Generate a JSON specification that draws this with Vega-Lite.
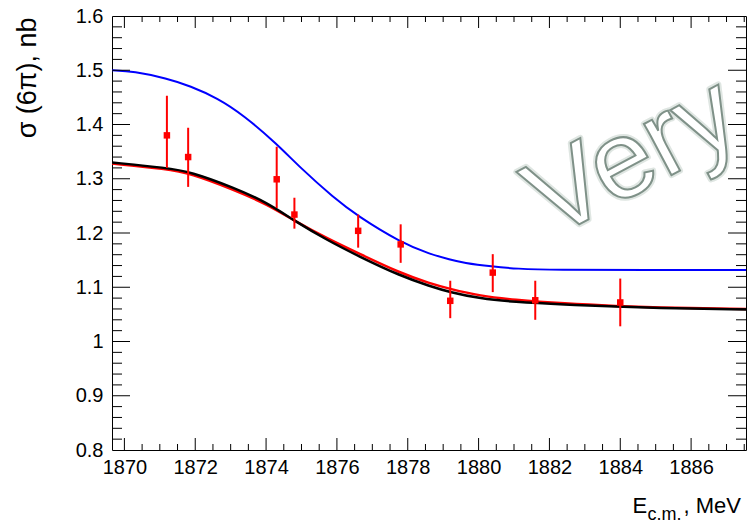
{
  "$schema": "https://vega.github.io/schema/vega-lite/v6.json",
  "width": 634,
  "height": 434,
  "autosize": "none",
  "padding": {"left": 112, "top": 16, "right": 4, "bottom": 74},
  "background": "white",
  "config": {
    "view": {"stroke": null},
    "font": "Liberation Sans",
    "axis": {
      "grid": false,
      "ticks": false,
      "domainColor": "#000000",
      "domainWidth": 1,
      "labelColor": "#000000",
      "labelFont": "Liberation Sans",
      "labelFontSize": 20,
      "labelFlush": false,
      "labelOverlap": false,
      "titleFont": "Liberation Sans",
      "titleFontWeight": "normal",
      "titleColor": "#000000"
    }
  },
  "datasets": {
    "blue": [
      {"x": 1869.65, "y": 1.500},
      {"x": 1870.26, "y": 1.498},
      {"x": 1871.20, "y": 1.485},
      {"x": 1871.86, "y": 1.471},
      {"x": 1872.62, "y": 1.449},
      {"x": 1873.37, "y": 1.417},
      {"x": 1874.31, "y": 1.364},
      {"x": 1874.97, "y": 1.320},
      {"x": 1875.91, "y": 1.265},
      {"x": 1876.57, "y": 1.232},
      {"x": 1877.79, "y": 1.183},
      {"x": 1878.63, "y": 1.161},
      {"x": 1879.20, "y": 1.151},
      {"x": 1879.57, "y": 1.145},
      {"x": 1880.38, "y": 1.138},
      {"x": 1881.08, "y": 1.134},
      {"x": 1882.10, "y": 1.132},
      {"x": 1884.84, "y": 1.132},
      {"x": 1887.55, "y": 1.132}
    ],
    "red": [
      {"x": 1869.65, "y": 1.328},
      {"x": 1871.20, "y": 1.318},
      {"x": 1871.86, "y": 1.310},
      {"x": 1873.08, "y": 1.280},
      {"x": 1874.03, "y": 1.253},
      {"x": 1874.81, "y": 1.222},
      {"x": 1875.72, "y": 1.190},
      {"x": 1876.59, "y": 1.163},
      {"x": 1877.79, "y": 1.126},
      {"x": 1878.63, "y": 1.107},
      {"x": 1879.18, "y": 1.097},
      {"x": 1880.05, "y": 1.084},
      {"x": 1880.98, "y": 1.077},
      {"x": 1882.40, "y": 1.070},
      {"x": 1884.00, "y": 1.065},
      {"x": 1884.84, "y": 1.063},
      {"x": 1887.55, "y": 1.060}
    ],
    "black": [
      {"x": 1869.65, "y": 1.330},
      {"x": 1871.20, "y": 1.320},
      {"x": 1871.86, "y": 1.313},
      {"x": 1873.08, "y": 1.284},
      {"x": 1874.03, "y": 1.256},
      {"x": 1874.81, "y": 1.222},
      {"x": 1875.72, "y": 1.187},
      {"x": 1876.59, "y": 1.158},
      {"x": 1877.79, "y": 1.121},
      {"x": 1878.63, "y": 1.102},
      {"x": 1879.18, "y": 1.091},
      {"x": 1880.05, "y": 1.079},
      {"x": 1880.98, "y": 1.073},
      {"x": 1882.40, "y": 1.068},
      {"x": 1884.00, "y": 1.064},
      {"x": 1884.84, "y": 1.062},
      {"x": 1887.55, "y": 1.059}
    ],
    "points": [
      {"x": 1871.2, "y": 1.380, "lo": 1.320, "hi": 1.453},
      {"x": 1871.8, "y": 1.340, "lo": 1.285, "hi": 1.394},
      {"x": 1874.3, "y": 1.299, "lo": 1.246, "hi": 1.359},
      {"x": 1874.8, "y": 1.234, "lo": 1.208, "hi": 1.265},
      {"x": 1876.6, "y": 1.204, "lo": 1.173, "hi": 1.234},
      {"x": 1877.8, "y": 1.179, "lo": 1.145, "hi": 1.216},
      {"x": 1879.2, "y": 1.075, "lo": 1.043, "hi": 1.112},
      {"x": 1880.4, "y": 1.127, "lo": 1.091, "hi": 1.161},
      {"x": 1881.6, "y": 1.076, "lo": 1.040, "hi": 1.112},
      {"x": 1884.0, "y": 1.072, "lo": 1.028, "hi": 1.116}
    ],
    "watermark": [
      {"label": "Very", "x": 1884.8, "y": 1.284}
    ],
    "xmajor": [{"v": 1870}, {"v": 1872}, {"v": 1874}, {"v": 1876}, {"v": 1878}, {"v": 1880}, {"v": 1882}, {"v": 1884}, {"v": 1886}],
    "xminor": [{"v": 1870.5}, {"v": 1871}, {"v": 1871.5}, {"v": 1872.5}, {"v": 1873}, {"v": 1873.5}, {"v": 1874.5}, {"v": 1875}, {"v": 1875.5}, {"v": 1876.5}, {"v": 1877}, {"v": 1877.5}, {"v": 1878.5}, {"v": 1879}, {"v": 1879.5}, {"v": 1880.5}, {"v": 1881}, {"v": 1881.5}, {"v": 1882.5}, {"v": 1883}, {"v": 1883.5}, {"v": 1884.5}, {"v": 1885}, {"v": 1885.5}, {"v": 1886.5}, {"v": 1887}, {"v": 1887.5}],
    "ymajor": [{"v": 0.9}, {"v": 1.0}, {"v": 1.1}, {"v": 1.2}, {"v": 1.3}, {"v": 1.4}, {"v": 1.5}],
    "yminor": [{"v": 0.82}, {"v": 0.84}, {"v": 0.86}, {"v": 0.88}, {"v": 0.92}, {"v": 0.94}, {"v": 0.96}, {"v": 0.98}, {"v": 1.02}, {"v": 1.04}, {"v": 1.06}, {"v": 1.08}, {"v": 1.12}, {"v": 1.14}, {"v": 1.16}, {"v": 1.18}, {"v": 1.22}, {"v": 1.24}, {"v": 1.26}, {"v": 1.28}, {"v": 1.32}, {"v": 1.34}, {"v": 1.36}, {"v": 1.38}, {"v": 1.42}, {"v": 1.44}, {"v": 1.46}, {"v": 1.48}, {"v": 1.52}, {"v": 1.54}, {"v": 1.56}, {"v": 1.58}]
  },
  "resolve": {"axis": {"x": "independent", "y": "independent"}},
  "layer": [
    {
      "data": {"name": "watermark"},
      "mark": {"type": "text", "font": "Liberation Sans", "fontSize": 110, "angle": -28, "align": "center", "baseline": "alphabetic", "fill": "#ffffff", "stroke": "#dfe6e2", "strokeWidth": 6, "strokeJoin": "round"},
      "encoding": {
        "text": {"field": "label"},
        "x": {"field": "x", "type": "quantitative", "scale": {"domain": [1869.65, 1887.55], "nice": false, "zero": false}, "axis": null},
        "y": {"field": "y", "type": "quantitative", "scale": {"domain": [0.8, 1.6], "nice": false, "zero": false}, "axis": null}
      }
    },
    {
      "data": {"name": "blue"},
      "mark": {"type": "line", "color": "#0000ff", "strokeWidth": 2, "interpolate": "basis", "clip": true},
      "encoding": {
        "x": {"field": "x", "type": "quantitative",
          "scale": {"domain": [1869.65, 1887.55], "nice": false, "zero": false},
          "axis": {"orient": "bottom", "values": [1870, 1872, 1874, 1876, 1878, 1880, 1882, 1884, 1886], "format": "d",
            "labelPadding": 7, "domain": true,
            "title": "E", "titleFontSize": 22, "titleX": 520, "titleY": 62, "titleAlign": "left", "titleBaseline": "alphabetic", "titleAngle": 0}},
        "y": {"field": "y", "type": "quantitative",
          "scale": {"domain": [0.8, 1.6], "nice": false, "zero": false},
          "axis": {"orient": "left", "values": [0.8, 0.9, 1, 1.1, 1.2, 1.3, 1.4, 1.5, 1.6], "format": "~g",
            "labelPadding": 9, "domain": true,
            "title": "σ (6π), nb", "titleFontSize": 27, "titleAngle": -90, "titleX": -85, "titleY": 1, "titleAlign": "right", "titleBaseline": "middle"}}
      }
    },
    {
      "data": {"name": "red"},
      "mark": {"type": "line", "color": "#ff0000", "strokeWidth": 2.5, "interpolate": "basis", "clip": true},
      "encoding": {
        "x": {"field": "x", "type": "quantitative", "scale": {"domain": [1869.65, 1887.55], "nice": false, "zero": false}, "axis": null},
        "y": {"field": "y", "type": "quantitative", "scale": {"domain": [0.8, 1.6], "nice": false, "zero": false}, "axis": null}
      }
    },
    {
      "data": {"name": "black"},
      "mark": {"type": "line", "color": "#000000", "strokeWidth": 2.5, "interpolate": "basis", "clip": true},
      "encoding": {
        "x": {"field": "x", "type": "quantitative",
          "scale": {"domain": [1869.65, 1887.55], "nice": false, "zero": false},
          "axis": {"orient": "bottom", "values": [1870], "labels": false, "domain": false,
            "title": "c.m.", "titleFontSize": 18, "titleX": 535, "titleY": 69, "titleAlign": "left", "titleBaseline": "alphabetic", "titleAngle": 0}},
        "y": {"field": "y", "type": "quantitative", "scale": {"domain": [0.8, 1.6], "nice": false, "zero": false}, "axis": null}
      }
    },
    {
      "data": {"name": "points"},
      "mark": {"type": "rule", "color": "#ff0000", "strokeWidth": 2},
      "encoding": {
        "x": {"field": "x", "type": "quantitative",
          "scale": {"domain": [1869.65, 1887.55], "nice": false, "zero": false},
          "axis": {"orient": "top", "values": [1870], "labels": false, "domain": true,
            "title": ", MeV", "titleFontSize": 22, "titleX": 571, "titleY": 496, "titleAlign": "left", "titleBaseline": "alphabetic", "titleAngle": 0}},
        "y": {"field": "lo", "type": "quantitative",
          "scale": {"domain": [0.8, 1.6], "nice": false, "zero": false},
          "axis": {"orient": "right", "values": [1.0], "labels": false, "domain": true, "title": null}},
        "y2": {"field": "hi"}
      }
    },
    {
      "data": {"name": "points"},
      "mark": {"type": "point", "shape": "square", "filled": true, "color": "#ff0000", "size": 42, "opacity": 1},
      "encoding": {
        "x": {"field": "x", "type": "quantitative", "scale": {"domain": [1869.65, 1887.55], "nice": false, "zero": false}, "axis": null},
        "y": {"field": "y", "type": "quantitative", "scale": {"domain": [0.8, 1.6], "nice": false, "zero": false}, "axis": null}
      }
    },
    {
      "data": {"name": "watermark"},
      "mark": {"type": "text", "font": "Liberation Sans", "fontSize": 110, "angle": -28, "align": "center", "baseline": "alphabetic", "fill": "#ffffff", "stroke": "#7f9188", "strokeWidth": 2},
      "encoding": {
        "text": {"field": "label"},
        "x": {"field": "x", "type": "quantitative", "scale": {"domain": [1869.65, 1887.55], "nice": false, "zero": false}, "axis": null},
        "y": {"field": "y", "type": "quantitative", "scale": {"domain": [0.8, 1.6], "nice": false, "zero": false}, "axis": null}
      }
    },
    {
      "data": {"name": "xmajor"},
      "mark": {"type": "tick", "color": "#000000", "thickness": 1, "size": 12, "orient": "vertical", "opacity": 1, "yOffset": -6},
      "encoding": {
        "x": {"field": "v", "type": "quantitative", "scale": {"domain": [1869.65, 1887.55], "nice": false, "zero": false}, "axis": null},
        "y": {"datum": 0.8, "type": "quantitative", "scale": {"domain": [0.8, 1.6], "nice": false, "zero": false}, "axis": null}
      }
    },
    {
      "data": {"name": "xminor"},
      "mark": {"type": "tick", "color": "#000000", "thickness": 1, "size": 6, "orient": "vertical", "opacity": 1, "yOffset": -3},
      "encoding": {
        "x": {"field": "v", "type": "quantitative", "scale": {"domain": [1869.65, 1887.55], "nice": false, "zero": false}, "axis": null},
        "y": {"datum": 0.8, "type": "quantitative", "scale": {"domain": [0.8, 1.6], "nice": false, "zero": false}, "axis": null}
      }
    },
    {
      "data": {"name": "xmajor"},
      "mark": {"type": "tick", "color": "#000000", "thickness": 1, "size": 12, "orient": "vertical", "opacity": 1, "yOffset": 6},
      "encoding": {
        "x": {"field": "v", "type": "quantitative", "scale": {"domain": [1869.65, 1887.55], "nice": false, "zero": false}, "axis": null},
        "y": {"datum": 1.6, "type": "quantitative", "scale": {"domain": [0.8, 1.6], "nice": false, "zero": false}, "axis": null}
      }
    },
    {
      "data": {"name": "xminor"},
      "mark": {"type": "tick", "color": "#000000", "thickness": 1, "size": 6, "orient": "vertical", "opacity": 1, "yOffset": 3},
      "encoding": {
        "x": {"field": "v", "type": "quantitative", "scale": {"domain": [1869.65, 1887.55], "nice": false, "zero": false}, "axis": null},
        "y": {"datum": 1.6, "type": "quantitative", "scale": {"domain": [0.8, 1.6], "nice": false, "zero": false}, "axis": null}
      }
    },
    {
      "data": {"name": "ymajor"},
      "mark": {"type": "tick", "color": "#000000", "thickness": 1, "size": 18, "orient": "horizontal", "opacity": 1, "xOffset": 9},
      "encoding": {
        "y": {"field": "v", "type": "quantitative", "scale": {"domain": [0.8, 1.6], "nice": false, "zero": false}, "axis": null},
        "x": {"datum": 1869.65, "type": "quantitative", "scale": {"domain": [1869.65, 1887.55], "nice": false, "zero": false}, "axis": null}
      }
    },
    {
      "data": {"name": "yminor"},
      "mark": {"type": "tick", "color": "#000000", "thickness": 1, "size": 10, "orient": "horizontal", "opacity": 1, "xOffset": 5},
      "encoding": {
        "y": {"field": "v", "type": "quantitative", "scale": {"domain": [0.8, 1.6], "nice": false, "zero": false}, "axis": null},
        "x": {"datum": 1869.65, "type": "quantitative", "scale": {"domain": [1869.65, 1887.55], "nice": false, "zero": false}, "axis": null}
      }
    },
    {
      "data": {"name": "ymajor"},
      "mark": {"type": "tick", "color": "#000000", "thickness": 1, "size": 18, "orient": "horizontal", "opacity": 1, "xOffset": -9},
      "encoding": {
        "y": {"field": "v", "type": "quantitative", "scale": {"domain": [0.8, 1.6], "nice": false, "zero": false}, "axis": null},
        "x": {"datum": 1887.55, "type": "quantitative", "scale": {"domain": [1869.65, 1887.55], "nice": false, "zero": false}, "axis": null}
      }
    },
    {
      "data": {"name": "yminor"},
      "mark": {"type": "tick", "color": "#000000", "thickness": 1, "size": 10, "orient": "horizontal", "opacity": 1, "xOffset": -5},
      "encoding": {
        "y": {"field": "v", "type": "quantitative", "scale": {"domain": [0.8, 1.6], "nice": false, "zero": false}, "axis": null},
        "x": {"datum": 1887.55, "type": "quantitative", "scale": {"domain": [1869.65, 1887.55], "nice": false, "zero": false}, "axis": null}
      }
    }
  ]
}
